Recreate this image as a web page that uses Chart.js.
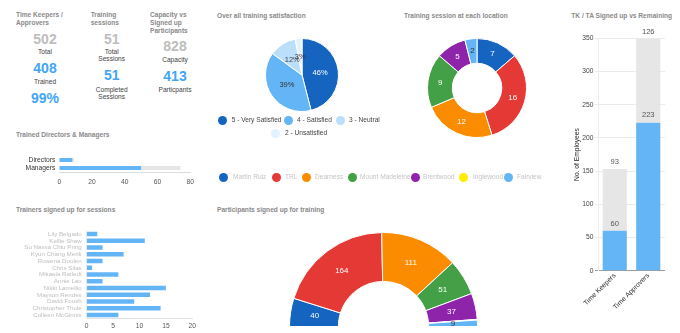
<!DOCTYPE html>
<html>
<head>
<meta charset="utf-8">
<script src="https://cdn.jsdelivr.net/npm/chart.js@4.4.1/dist/chart.umd.min.js"></script>
<style>
  body { margin: 0; background: #fff; font-family: "Liberation Sans", Arial, sans-serif; }
  #page { position: relative; width: 680px; height: 333px; overflow: hidden; }
  .t { position: absolute; white-space: nowrap; line-height: 1; }
  .h { font-weight: bold; font-size: 6.6px; color: #8a8a8a; line-height: 8px; }
  .num { font-weight: bold; font-size: 14px; transform: translateX(-50%); }
  .gray { color: #bdbdbd; }
  .blue { color: #42a5f5; }
  .lbl { font-size: 6.6px; color: #444; transform: translateX(-50%); text-align: center; line-height: 7.5px; }
  .box { position: absolute; }
  .leg { position: absolute; font-size: 6.6px; line-height: 1; white-space: nowrap; }
  .dot { position: absolute; width: 9px; height: 9px; border-radius: 50%; }
</style>
</head>
<body>
<div id="page">
  <!-- KPI blocks -->
  <div class="t h" style="left:16px; top:10.5px">Time Keepers /<br>Approvers</div>
  <div class="t num gray" style="left:45px; top:31.7px" id="kpiTotal"></div>
  <div class="t lbl" style="left:45px; top:48px">Total</div>
  <div class="t num blue" style="left:45px; top:61.3px" id="kpiTrained"></div>
  <div class="t lbl" style="left:45px; top:78px">Trained</div>
  <div class="t num blue" style="left:45px; top:91.3px" id="kpiPct"></div>

  <div class="t h" style="left:90.7px; top:10.5px">Training<br>sessions</div>
  <div class="t num gray" style="left:111.7px; top:31.7px" id="kpiSessions"></div>
  <div class="t lbl" style="left:111.7px; top:47.9px">Total<br>Sessions</div>
  <div class="t num blue" style="left:111.7px; top:68.3px" id="kpiCompleted"></div>
  <div class="t lbl" style="left:111.7px; top:85.8px">Completed<br>Sessions</div>

  <div class="t h" style="left:150px; top:10.5px">Capacity vs<br>Signed up<br>Participants</div>
  <div class="t num gray" style="left:175px; top:39px" id="kpiCapacity"></div>
  <div class="t lbl" style="left:175px; top:56px">Capacity</div>
  <div class="t num blue" style="left:175px; top:68.7px" id="kpiParticipants"></div>
  <div class="t lbl" style="left:175px; top:86px">Particpants</div>

  <!-- section titles -->
  <div class="t h" style="left:16px; top:131px">Trained Directors &amp; Managers</div>
  <div class="t h" style="left:16px; top:206px">Trainers signed up for sessions</div>
  <div class="t h" style="left:217px; top:11.8px">Over all training satisfaction</div>
  <div class="t h" style="left:404px; top:11.8px">Training session at each location</div>
  <div class="t h" style="left:217px; top:206px">Participants signed up for training</div>
  <div class="t h" style="left:621.7px; top:11.8px; transform:translateX(-50%)">TK / TA Signed up vs Remaining</div>

  <div class="box" style="left:0; top:148px; width:200px; height:40px"><canvas id="mgmt"></canvas></div>
  <div class="box" style="left:0; top:222px; width:200px; height:111px"><canvas id="trainers"></canvas></div>
  <div class="box" style="left:264.5px; top:38px; width:74px; height:74px"><canvas id="satisfaction"></canvas></div>
  <div class="box" style="left:427px; top:38px; width:100px; height:100px"><canvas id="sessions"></canvas></div>
  <div class="box" style="left:289px; top:232px; width:189px; height:95px"><canvas id="participants"></canvas></div>
  <div class="box" style="left:555px; top:25px; width:125px; height:308px"><canvas id="tkta"></canvas></div>
</div>
<script>
// KPI numbers
const kpiTotal = 502;
const kpiTrained = 408;
const kpiPct = '99%';
const kpiSessions = 51;
const kpiCompleted = 51;
const kpiCapacity = 828;
const kpiParticipants = 413;

// satisfaction pie
const satisfactionLabels = ['5 - Very Satisfied', '4 - Satisfied', '3 - Neutral', '2 - Unsatisfied'];
const satisfactionValues = [46, 39, 12, 3];
const satisfactionColors = ['#1565c0', '#64b5f6', '#bbdefb', '#e3f2fd'];

// locations
const locations = ['Martin Ruiz', 'TRL', 'Dearness', 'Mount Madeleine', 'Brentwood', 'Inglewood', 'Fairview'];
const locationColors = ['#1565c0', '#e53935', '#fb8c00', '#43a047', '#8e24aa', '#ffee00', '#64b5f6'];
const sessionsPerLocation = [7, 16, 12, 9, 5, 0, 2];
const participantsPerLocation = [40, 164, 111, 51, 37, 1, 9];

// directors & managers
const mgmtLabels = ['Directors', 'Managers'];
const mgmtTrained = [8, 50];
const mgmtRemaining = [1, 24];
const mgmtTicks = [0, 20, 40, 60, 80];

// trainers
const trainerNames = ['Lily Belgado', 'Kellie Shaw', 'Su Nassa Chiu Pring', 'Kyun Chang Merik', 'Rowena Doolen',
  'Chris Silas', 'Mikaela Ratledt', 'Annie Lau', 'Nikki Lamellio', 'Mayson Rendes', 'David Foush',
  'Christopher Thole', 'Colleen McGinnis'];
const trainerSessions = [2, 11, 3, 7, 3, 1, 6, 3, 15, 12, 9, 14, 6];

// TK / TA
const tkLabels = ['Time Keepers', 'Time Approvers'];
const tkSignedUp = [60, 223];
const tkRemaining = [93, 126];

document.getElementById('kpiTotal').textContent = kpiTotal;
document.getElementById('kpiTrained').textContent = kpiTrained;
document.getElementById('kpiPct').textContent = kpiPct;
document.getElementById('kpiSessions').textContent = kpiSessions;
document.getElementById('kpiCompleted').textContent = kpiCompleted;
document.getElementById('kpiCapacity').textContent = kpiCapacity;
document.getElementById('kpiParticipants').textContent = kpiParticipants;

const page = document.getElementById('page');
function addLegend(labels, colors, dotX, textX, y, textColor) {
    labels.forEach(function (lab, i) {
        const d = document.createElement('div');
        d.className = 'dot';
        d.style.left = (dotX[i] - 4.5) + 'px';
        d.style.top = (y[i] - 4.5) + 'px';
        d.style.background = colors[i];
        page.appendChild(d);
        const t = document.createElement('div');
        t.className = 'leg';
        t.style.left = textX[i] + 'px';
        t.style.top = (y[i] - 3.3) + 'px';
        t.style.color = textColor;
        t.textContent = lab;
        page.appendChild(t);
    });
}
addLegend(satisfactionLabels, satisfactionColors, [222, 288, 340.7, 275.7], [231.7, 297, 349, 285],
    [120.7, 120.7, 120.7, 133.3], '#444');
addLegend(locations, locationColors, [223, 276, 306, 352, 415, 463, 508], [233, 285, 315, 360, 423, 473, 517],
    [177.7, 177.7, 177.7, 177.7, 177.7, 177.7, 177.7], '#c4c4c4');

const FONT = '"Liberation Sans", Arial, sans-serif';
Chart.defaults.font.family = FONT;
Chart.defaults.animation = false;
Chart.defaults.events = [];
Chart.defaults.plugins.legend.display = false;
Chart.defaults.plugins.tooltip.enabled = false;
Chart.defaults.maintainAspectRatio = false;

// value labels at the middle of each arc
function arcLabels(cfg) {
    return {
        id: 'arcLabels',
        afterDatasetsDraw(chart) {
            const ctx = chart.ctx;
            const values = chart.data.datasets[0].data;
            ctx.save();
            ctx.font = cfg.size + 'px ' + FONT;
            ctx.textAlign = 'center';
            ctx.textBaseline = 'middle';
            chart.getDatasetMeta(0).data.forEach(function (arc, i) {
                if (values[i] < cfg.min) return;
                const p = arc.getCenterPoint();
                ctx.fillStyle = cfg.colors[i];
                ctx.fillText(values[i] + (cfg.suffix || ''), p.x, p.y);
            });
            ctx.restore();
        }
    };
}

// value labels just above each bar segment
const barTopLabels = {
    id: 'barTopLabels',
    afterDatasetsDraw(chart) {
        const ctx = chart.ctx;
        ctx.save();
        ctx.font = '7.6px ' + FONT;
        ctx.fillStyle = '#555';
        ctx.textAlign = 'center';
        ctx.textBaseline = 'bottom';
        chart.data.datasets.forEach(function (ds, di) {
            chart.getDatasetMeta(di).data.forEach(function (bar, i) {
                ctx.fillText(ds.data[i], bar.x, bar.y - 3.5);
            });
        });
        ctx.restore();
    }
};

new Chart(document.getElementById('satisfaction'), {
    type: 'pie',
    data: {
        labels: satisfactionLabels,
        datasets: [{ data: satisfactionValues, backgroundColor: satisfactionColors, borderColor: '#fff', borderWidth: 1, hoverOffset: 0 }]
    },
    options: { responsive: true, layout: { padding: 0 } },
    plugins: [arcLabels({ size: 7.5, min: 1, suffix: '%', colors: ['#fff', '#333', '#444', '#333'] })]
});

new Chart(document.getElementById('sessions'), {
    type: 'doughnut',
    data: {
        labels: locations,
        datasets: [{ data: sessionsPerLocation, backgroundColor: locationColors, borderColor: '#fff', borderWidth: 1, hoverOffset: 0 }]
    },
    options: { responsive: true, cutout: '50%', layout: { padding: 0 } },
    plugins: [arcLabels({ size: 8, min: 1, colors: ['#fff', '#fff', '#fff', '#fff', '#fff', '#333', '#333'] })]
});

new Chart(document.getElementById('participants'), {
    type: 'doughnut',
    data: {
        labels: locations,
        datasets: [{ data: participantsPerLocation, backgroundColor: locationColors, borderColor: '#fff', borderWidth: 1, hoverOffset: 0 }]
    },
    options: { responsive: true, cutout: '48%', rotation: -90, circumference: 180, layout: { padding: 0 } },
    plugins: [arcLabels({ size: 8, min: 2, colors: ['#fff', '#fff', '#fff', '#fff', '#fff', '#333', '#333'] })]
});

new Chart(document.getElementById('mgmt'), {
    type: 'bar',
    data: {
        labels: mgmtLabels,
        datasets: [
            { data: mgmtTrained, backgroundColor: '#64b5f6', categoryPercentage: 0.8, barPercentage: 0.65 },
            { data: mgmtRemaining, backgroundColor: '#e6e6e6', categoryPercentage: 0.8, barPercentage: 0.65 }
        ]
    },
    options: {
        responsive: true,
        indexAxis: 'y',
        layout: { padding: { top: 6.5, right: 7.3, left: 0, bottom: 0 } },
        scales: {
            x: {
                stacked: true, min: 0, max: 80,
                afterBuildTicks(scale) { scale.ticks = mgmtTicks.map(v => ({ value: v })); },
                afterFit(scale) { scale.height = 16; },
                grid: { display: false, drawTicks: false },
                border: { display: true, color: '#dcdcdc' },
                ticks: { color: '#555', font: { size: 6.7 }, padding: 6 }
            },
            y: {
                stacked: true,
                afterFit(scale) { scale.width = 59.3; },
                grid: { display: false, drawTicks: false },
                border: { display: false },
                ticks: { color: '#333', font: { size: 6.7 }, padding: 4, autoSkip: false }
            }
        }
    }
});

new Chart(document.getElementById('trainers'), {
    type: 'bar',
    data: {
        labels: trainerNames,
        datasets: [{ data: trainerSessions, backgroundColor: '#64b5f6', categoryPercentage: 0.8, barPercentage: 0.83 }]
    },
    options: {
        responsive: true,
        indexAxis: 'y',
        layout: { padding: { top: 8.6, right: 5.7, left: 0, bottom: 0 } },
        scales: {
            x: {
                min: 0, max: 20,
                ticks: { stepSize: 5, color: '#555', font: { size: 6.7 }, padding: 4 },
                afterFit(scale) { scale.height = 14.6; },
                grid: { display: false, drawTicks: false },
                border: { display: true, color: '#e3e3e3' }
            },
            y: {
                afterFit(scale) { scale.width = 86.7; },
                grid: { display: false, drawTicks: false },
                border: { display: true, color: '#f0f0f0' },
                ticks: { color: '#bdbdbd', font: { size: 6.2 }, padding: 5, autoSkip: false }
            }
        }
    }
});

new Chart(document.getElementById('tkta'), {
    type: 'bar',
    data: {
        labels: tkLabels,
        datasets: [
            { data: tkSignedUp, backgroundColor: '#64b5f6', categoryPercentage: 0.8, barPercentage: 0.9 },
            { data: tkRemaining, backgroundColor: '#e6e6e6', categoryPercentage: 0.8, barPercentage: 0.9 }
        ]
    },
    options: {
        responsive: true,
        layout: { padding: { top: 13.3, right: 15, left: 0, bottom: 0 } },
        scales: {
            x: {
                stacked: true,
                afterFit(scale) { scale.height = 62.3; },
                grid: { display: false, drawTicks: false },
                border: { display: false },
                ticks: { color: '#333', font: { size: 6.8 }, minRotation: 45, maxRotation: 45, padding: 1 }
            },
            y: {
                stacked: true, min: 0, max: 350,
                afterFit(scale) { scale.width = 43; },
                grid: { color: ctx => ctx.tick.value === 0 ? '#9e9e9e' : '#ebebeb', drawTicks: true, tickLength: 3 },
                border: { display: true, color: '#eeeeee' },
                ticks: { stepSize: 50, color: '#444', font: { size: 6.7 }, padding: 1.5 },
                title: { display: true, text: 'No. of Employees', color: '#222', font: { size: 6.7 }, padding: { top: 18, bottom: 0 } }
            }
        }
    },
    plugins: [barTopLabels]
});
</script>
</body>
</html>
